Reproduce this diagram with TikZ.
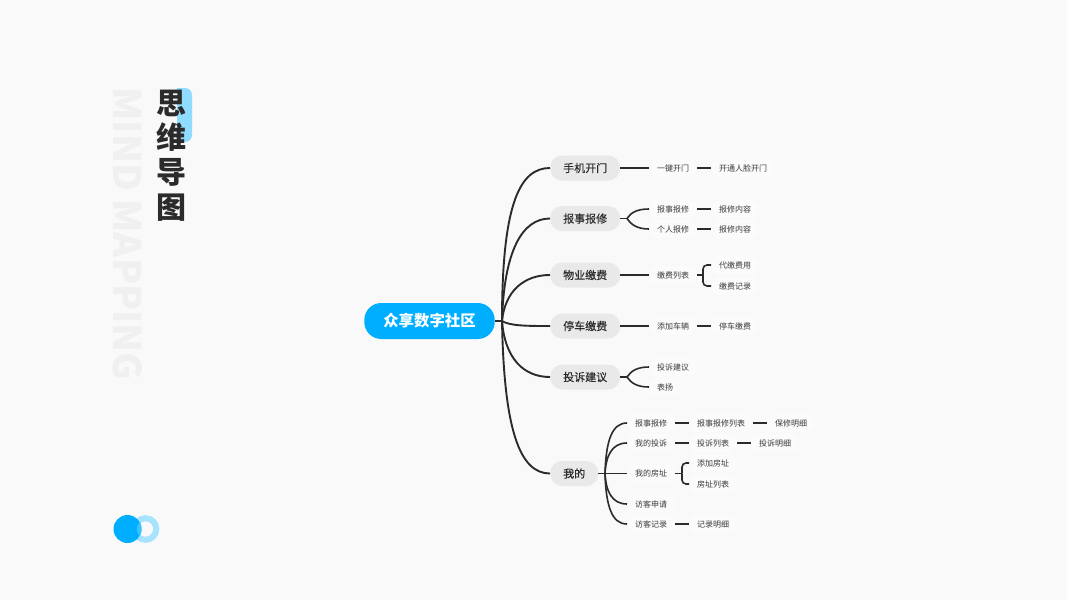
\documentclass[tikz,border=0pt]{standalone}
\usepackage{fontspec}
\setmainfont{Noto Sans CJK SC}
\newfontfamily\branchfont[FakeBold=0.22]{Noto Sans CJK SC}
\usetikzlibrary{positioning}
\definecolor{PageGray}{HTML}{F9F9F9}
\definecolor{LeafGray}{HTML}{FBFBFB}
\definecolor{BranchGray}{HTML}{E9E9E9}
\definecolor{SkyBlue}{HTML}{00AEFF}
\definecolor{LensBlue}{HTML}{38C2FF}
\definecolor{PaleBlue}{HTML}{A5E3FF}
\definecolor{TabBlue}{HTML}{8FDCFF}
\definecolor{InkGray}{HTML}{2B2B2B}
\definecolor{LeafInk}{HTML}{3A3A3A}
\definecolor{WatermarkGray}{HTML}{F0F0F0}
\tikzset{
  rootbox/.style={fill=SkyBlue, text=white, rounded corners=17pt, inner xsep=19pt, inner ysep=0pt, minimum height=36pt,
    font=\fontsize{15.4}{18}\selectfont\bfseries, text height=13.5pt, text depth=1.9pt},
  branchbox/.style={fill=BranchGray, text=InkGray, rounded corners=12pt, inner xsep=13pt, inner ysep=0pt, minimum height=25pt, anchor=west,
    font=\branchfont\fontsize{11}{13}\selectfont, text height=9.7pt, text depth=1.3pt},
  leafbox/.style={fill=LeafGray, text=LeafInk, rounded corners=8pt, inner xsep=8pt, inner ysep=0pt, minimum height=18pt, anchor=west,
    font=\fontsize{8}{10}\selectfont, text height=7pt, text depth=1pt},
  link/.style={draw=InkGray, line width=1.6pt},
  rootlink/.style={draw=InkGray, line width=1.9pt},
  bracket/.style={link, rounded corners=4pt}
}
\begin{document}
\begin{tikzpicture}[x=1pt, y=-1pt]
    \useasboundingbox (0,0) rectangle (1067,600);
    \fill[PageGray] (0,0) rectangle (1067,600);

    % title block
    \node (watermark) at (128,234) [rotate=-90, text=WatermarkGray, font=\fontsize{38}{38}\selectfont\bfseries, inner sep=0pt] {MIND MAPPING};
    \fill[TabBlue, rounded corners=7pt] (177,88) -- (192,88) -- (192,142) -- (177,142) [sharp corners] -- cycle;
    \node (title) at (171,155.5) [align=center, text=InkGray, inner sep=0pt, font=\fontsize{30}{34.6}\selectfont\bfseries] {思\\维\\导\\图};

    % logo
    \draw[PaleBlue, line width=6pt] (145.5,529) circle (10.8);
    \fill[SkyBlue] (127.5,529) circle (14);
    \begin{scope}
        \clip (127.5,529) circle (14);
        \fill[LensBlue] (145.5,529) circle (8.8);
    \end{scope}

    % main nodes
    \node[rootbox] (root) at (429.5,321) {众享数字社区};
    \node[branchbox] (mobile) at (550,168) {手机开门};
    \node[branchbox] (repair) at (550,218.5) {报事报修};
    \node[branchbox] (fee) at (550,275) {物业缴费};
    \node[branchbox] (parking) at (550,326) {停车缴费};
    \node[branchbox] (complaint) at (550,377) {投诉建议};
    \node[branchbox] (mine) at (550,473.5) {我的};

    % leaves of the upper branches
    \node[leafbox] (unlock) at (649,168) {一键开门};
    \node[leafbox] (face) at (711,168) {开通人脸开门};
    \node[leafbox] (report) at (649,209) {报事报修};
    \node[leafbox] (reportinfo) at (711,209) {报修内容};
    \node[leafbox] (personal) at (649,229) {个人报修};
    \node[leafbox] (personalinfo) at (711,229) {报修内容};
    \node[leafbox] (feelist) at (649,275) {缴费列表};
    \node[leafbox] (proxyfee) at (711,265) {代缴费用};
    \node[leafbox] (feelog) at (711,286) {缴费记录};
    \node[leafbox] (addcar) at (649,326) {添加车辆};
    \node[leafbox] (carfee) at (711,326) {停车缴费};
    \node[leafbox] (advice) at (649,367) {投诉建议};
    \node[leafbox] (praise) at (649,387) {表扬};

    % leaves of the last branch
    \node[leafbox] (myreport) at (627,423) {报事报修};
    \node[leafbox] (reportlist) at (689,423) {报事报修列表};
    \node[leafbox] (reportdetail) at (767,423) {保修明细};
    \node[leafbox] (mycomplaint) at (627,443) {我的投诉};
    \node[leafbox] (complaintlist) at (689,443) {投诉列表};
    \node[leafbox] (complaintdetail) at (751,443) {投诉明细};
    \node[leafbox] (myhouse) at (627,473.5) {我的房址};
    \node[leafbox] (addhouse) at (689,463) {添加房址};
    \node[leafbox] (houselist) at (689,484) {房址列表};
    \node[leafbox] (visitor) at (627,504) {访客申请};
    \node[leafbox] (visitlog) at (627,524) {访客记录};
    \node[leafbox] (logdetail) at (689,524) {记录明细};

    % connectors
    \coordinate (roothub) at (502,321);
    \draw[rootlink] (root.east) -- (roothub);
    \foreach \target/\first/\second in {mobile/{0,-118}/{-30,0}, repair/{2,-70}/{-28,0}, fee/{3,-30}/{-26,0}, parking/{8,5}/{-22,0}, complaint/{3,38}/{-26,0}, mine/{2,110}/{-30,0}}
        \draw[rootlink] (roothub) .. controls +(\first) and +(\second) .. (\target.west);

    \foreach \from/\to in {mobile/unlock, unlock/face, report/reportinfo, personal/personalinfo, fee/feelist, parking/addcar, addcar/carfee, myreport/reportlist, reportlist/reportdetail, mycomplaint/complaintlist, complaintlist/complaintdetail, visitlog/logdetail}
        \draw[link] (\from.east) -- (\to.west);

    \coordinate (repairhub) at (627,218.5);
    \coordinate (complainthub) at (627,377);
    \coordinate (minehub) at (605,473.5);
    \coordinate (feehub) at (703,275);
    \coordinate (househub) at (682,473.5);

    \draw[link] (repair.east) -- (repairhub);
    \draw[link] (repairhub) .. controls +(4,-6) and +(-12,0) .. (report.west);
    \draw[link] (repairhub) .. controls +(4,6) and +(-12,0) .. (personal.west);
    \draw[link] (complaint.east) -- (complainthub);
    \draw[link] (complainthub) .. controls +(4,-6) and +(-12,0) .. (advice.west);
    \draw[link] (complainthub) .. controls +(4,6) and +(-12,0) .. (praise.west);

    \draw[link] (mine.east) -- (myhouse.west);
    \foreach \target/\first in {myreport/{1,-33}, mycomplaint/{1,-18}, visitor/{1,18}, visitlog/{1,33}}
        \draw[link] (minehub) .. controls +(\first) and +(-15,0) .. (\target.west);

    \draw[link] (feelist.east) -- (feehub);
    \draw[bracket] (feehub) |- (proxyfee.west);
    \draw[bracket] (feehub) |- (feelog.west);
    \draw[link] (myhouse.east) -- (househub);
    \draw[bracket] (househub) |- (addhouse.west);
    \draw[bracket] (househub) |- (houselist.west);
\end{tikzpicture}
\end{document}
